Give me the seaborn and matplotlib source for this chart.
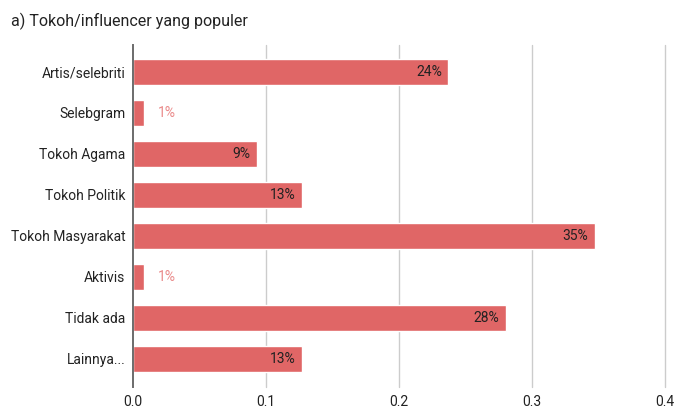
import matplotlib
matplotlib.use("Agg")
import matplotlib.pyplot as plt
import seaborn as sns
import pandas as pd

# Share of respondents naming each type of popular figure / influencer
categories = [
    "Artis/selebriti",
    "Selebgram",
    "Tokoh Agama",
    "Tokoh Politik",
    "Tokoh Masyarakat",
    "Aktivis",
    "Tidak ada",
    "Lainnya...",
]
shares = [0.237, 0.0085, 0.093, 0.127, 0.347, 0.0085, 0.280, 0.127]
x_ticks = [0.0, 0.1, 0.2, 0.3, 0.4]
title = "a) Tokoh/influencer yang populer"

BAR = "#e06666"
TEXT = "#222222"

sns.set_theme(style="white")
plt.rcParams["font.family"] = ["Roboto", "DejaVu Sans"]

df = pd.DataFrame({"kategori": categories, "persen": shares})

fig = plt.figure(figsize=(6.75, 4.08), dpi=100)
ax = fig.add_axes([0.1966, 0.0515, 0.789, 0.8382])

sns.barplot(data=df, x="persen", y="kategori", orient="h", color=BAR,
            saturation=1, width=0.63, ax=ax, zorder=3)

ax.set_xlim(0, 0.4)
ax.set_ylim(7.688, -0.654)
ax.set_xticks(x_ticks)
ax.set_xticklabels([f"{t:.1f}" for t in x_ticks])
ax.set_xlabel("")
ax.set_ylabel("")

# vertical gridlines
for t in x_ticks[1:]:
    ax.axvline(t, color="#cccccc", lw=1.0, zorder=1, clip_on=False)

for side in ["top", "right", "bottom"]:
    ax.spines[side].set_visible(False)
ax.spines["left"].set_color("#6b6b6b")
ax.spines["left"].set_linewidth(1.4)
ax.spines["left"].set_zorder(4)

ax.tick_params(axis="both", length=0, colors=TEXT, labelsize=10)
ax.tick_params(axis="y", pad=5.3)
ax.tick_params(axis="x", pad=5.5)

# value labels: inside the bar end for wide bars, outside for narrow ones
for patch, v in zip(ax.patches, shares):
    w = patch.get_width()
    yc = patch.get_y() + patch.get_height() / 2
    label = f"{round(v * 100)}%"
    if w > 0.03:
        ax.annotate(label, (w, yc), xytext=(-6.3, 0), textcoords="offset pixels",
                    ha="right", va="center", fontsize=10, color=TEXT, zorder=5)
    else:
        ax.annotate(label, (w, yc), xytext=(14, 0), textcoords="offset pixels",
                    ha="left", va="center", fontsize=10, color="#ea8a8a", zorder=5)

fig.text(11 / 675, 1 - 21 / 408, title, ha="left", va="center",
         fontsize=11.5, color=TEXT)

fig.savefig("out.png", dpi=100)
